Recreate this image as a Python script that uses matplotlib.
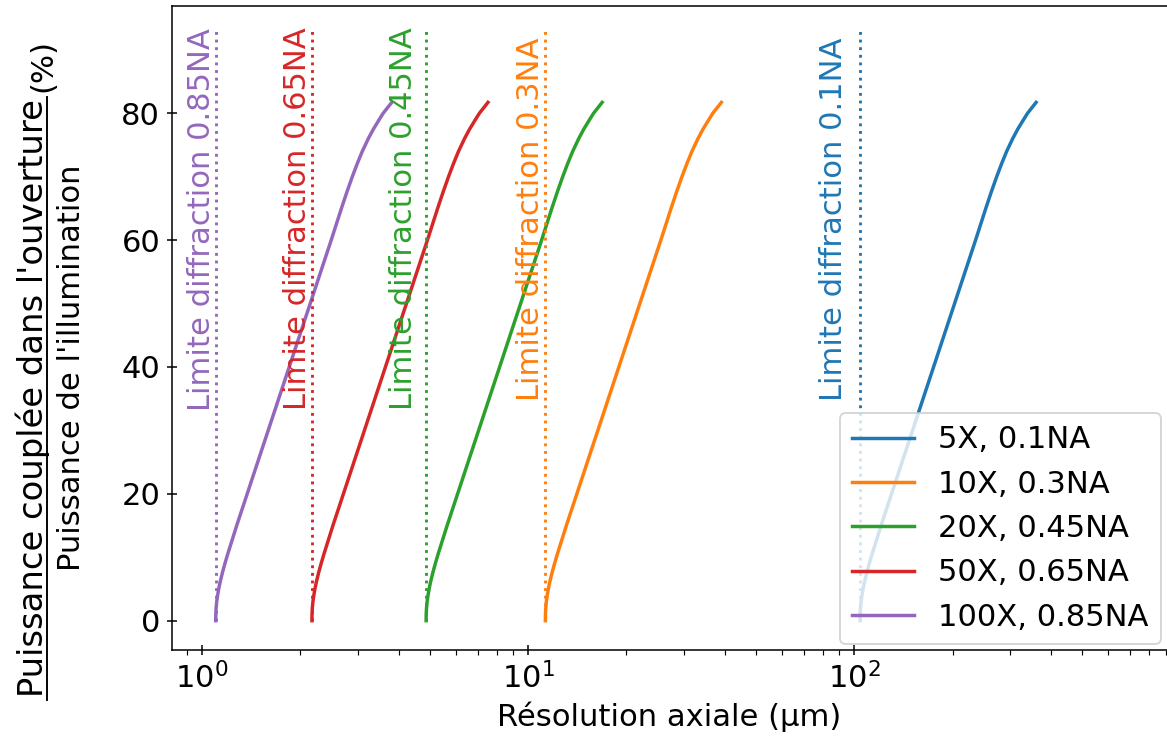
import numpy as np
import matplotlib
matplotlib.use('Agg')
import matplotlib.pyplot as plt
from matplotlib.lines import Line2D

# Courbes : puissance couplée (%) en fonction de la résolution axiale (µm)
puissance = [0, 1, 2, 3, 4, 5, 6, 7.5, 9, 10.5, 12, 15, 20, 25, 30, 35, 40, 45, 50, 55,
             60, 62.5, 65, 67.5, 70, 72, 74, 76, 77.5, 79, 80, 81, 81.7]

res_5x = [104.1, 104.17, 104.39, 104.84, 105.51, 106.33, 107.31, 109.07, 111.09, 113.31,
          115.74, 120.74, 130.04, 140.05, 150.83, 162.45, 174.95, 188.41, 202.92, 218.54,
          235.36, 244.00, 252.95, 262.60, 273.19, 282.61, 293.19, 305.89, 317.10, 330.36,
          339.82, 352.03, 360.84]
res_10x = [11.280, 11.288, 11.312, 11.360, 11.432, 11.521, 11.627, 11.818, 12.037, 12.278,
           12.541, 13.083, 14.091, 15.175, 16.344, 17.602, 18.957, 20.416, 21.988, 23.680,
           25.503, 26.439, 27.409, 28.455, 29.602, 30.623, 31.769, 33.145, 34.360, 35.797,
           36.822, 38.146, 39.100]
res_20x = [4.860, 4.863, 4.874, 4.895, 4.926, 4.964, 5.010, 5.092, 5.186, 5.290,
           5.403, 5.637, 6.071, 6.538, 7.042, 7.584, 8.168, 8.796, 9.474, 10.203,
           10.988, 11.391, 11.809, 12.260, 12.754, 13.194, 13.688, 14.281, 14.804, 15.423,
           15.865, 16.435, 16.846]
res_50x = [2.1700, 2.1715, 2.1761, 2.1854, 2.1993, 2.2164, 2.2368, 2.2735, 2.3156, 2.3620,
           2.4126, 2.5168, 2.7108, 2.9193, 3.1441, 3.3863, 3.6469, 3.9275, 4.2300, 4.5555,
           4.9062, 5.0863, 5.2729, 5.4740, 5.6947, 5.8911, 6.1116, 6.3763, 6.6100, 6.8865,
           7.0837, 7.3383, 7.5219]
res_100x = [1.1000, 1.1008, 1.1031, 1.1078, 1.1149, 1.1235, 1.1339, 1.1525, 1.1738, 1.1974,
            1.2230, 1.2758, 1.3741, 1.4798, 1.5938, 1.7166, 1.8487, 1.9909, 2.1442, 2.3092,
            2.4870, 2.5783, 2.6729, 2.7749, 2.8867, 2.9863, 3.0980, 3.2322, 3.3507, 3.4909,
            3.5908, 3.7199, 3.8129]

objectifs = ['5X, 0.1NA', '10X, 0.3NA', '20X, 0.45NA', '50X, 0.65NA', '100X, 0.85NA']
ouvertures = ['0.1NA', '0.3NA', '0.45NA', '0.65NA', '0.85NA']
limites = [104.1, 11.28, 4.86, 2.17, 1.10]
haut_limite = 93.5
couleurs = ['tab:blue', 'tab:orange', 'tab:green', 'tab:red', 'tab:purple']
decalage_texte = [-12, 0, -8, 0, 0]  # en pixels

plt.rcParams['font.size'] = 16

dpi = 138
W, H = 1167, 742
fig = plt.figure(figsize=(W / dpi, H / dpi), dpi=dpi)
ax = fig.add_axes([0.1471, 0.124, 0.853, 0.868])

series = [res_5x, res_10x, res_20x, res_50x, res_100x]
for res, lab, c in zip(series, objectifs, couleurs):
    ax.plot(res, puissance, color=c, lw=1.8, label=lab)

for lim, na, c, dx in zip(limites, ouvertures, couleurs, decalage_texte):
    ax.plot([lim, lim], [0, haut_limite], ':', color=c)
    ax.annotate('Limite diffraction ' + na, xy=(lim, 63.3), xytext=(dx, 0),
                textcoords='offset pixels', rotation=90, color=c,
                ha='right', va='center')

ax.set_xscale('log')
ax.set_xlim(0.806, 910)
ax.set_ylim(-4.62, 96.9)
ax.set_yticks([0, 20, 40, 60, 80])
ax.spines['right'].set_visible(False)
ax.tick_params(which='major', direction='inout', length=5)
ax.tick_params(which='minor', direction='out', length=2.6)

ax.set_xlabel('Résolution axiale (µm)')
ax.legend(loc='lower right', borderaxespad=0.2)

# étiquette de l'axe y sous forme de fraction (placée en pixels de la figure)
fig.text(33 / W, 1 - 398 / H, "Puissance couplée dans l'ouverture", rotation=90,
         ha='center', va='center', fontsize=17.6)
fig.text(72 / W, 1 - 367.5 / H, "Puissance de l'illumination", rotation=90,
         ha='center', va='center')
fig.text(43 / W, 1 - 66 / H, "(%)", rotation=90, ha='center', va='center')
fig.add_artist(Line2D([47 / W, 47 / W], [1 - 700 / H, 1 - 97 / H],
                      transform=fig.transFigure, color='black', lw=1.0))

fig.savefig('out.png', dpi=dpi)
